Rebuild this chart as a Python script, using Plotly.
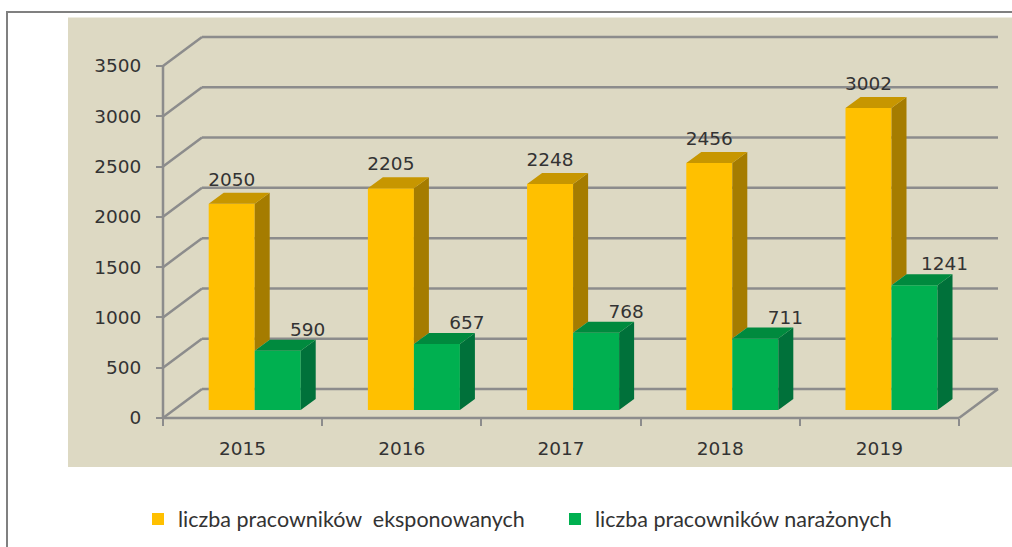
import plotly.graph_objects as go

years = ["2015", "2016", "2017", "2018", "2019"]
exposed = [2050, 2205, 2248, 2456, 3002]
endangered = [590, 657, 768, 711, 1241]
y_ticks = [0, 500, 1000, 1500, 2000, 2500, 3000, 3500]
name_exposed = "liczba pracowników\u00a0 eksponowanych"
name_endangered = "liczba pracowników narażonych"

W, H = 1012, 547
X0, UNIT = 163.0, 159.2          # pixel of category edge 0, pixels per category
Y0, KPX = 418.0, 3500 / 352.0    # pixel of value 0, value units per pixel
xr = [-X0 / UNIT, (W - X0) / UNIT]
yr = [-(H - Y0) * KPX, Y0 * KPX]

WALL_DX, WALL_DY = 39 / UNIT, 29 * KPX     # depth of the chart box
BAR_DX, BAR_DY = 15 / UNIT, 11 * KPX       # depth of a bar
BASE = 8 * KPX                             # bars stand inside the floor
OFF = 0.287
BW = 0.289

GRID = "#8C8C8C"
TXT = "#333333"
FONT = "DejaVu Sans"
TICK_SIZE = 18.5
n = len(years)
idx = list(range(n))


def prism(values, left, occlude=None):
    sx, sy, tx, ty = [], [], [], []
    for i, v in enumerate(values):
        a = i + left
        b = a + BW
        top = BASE + v
        low = BASE + (occlude[i] if occlude else 0)
        sx += [b, b + BAR_DX, b + BAR_DX, b, b, None]
        sy += [top, top + BAR_DY, low + BAR_DY, low, top, None]
        tx += [a, b, b + BAR_DX, a + BAR_DX, a, None]
        ty += [top, top, top + BAR_DY, top + BAR_DY, top, None]
    return sx, sy, tx, ty


def face(x, y, color):
    return go.Scatter(x=x, y=y, mode="lines", fill="toself", fillcolor=color,
                      line=dict(width=0), showlegend=False, hoverinfo="skip")


fig = go.Figure()
fig.add_trace(go.Bar(x=idx, y=exposed, base=BASE, width=BW, offset=OFF, marker_color="#FFC000",
                     marker_line_width=0, name=name_exposed))
fig.add_trace(go.Bar(x=idx, y=endangered, base=BASE, width=BW, offset=OFF + BW, marker_color="#00B050",
                     marker_line_width=0, name=name_endangered))

sx, sy, tx, ty = prism(exposed, OFF, occlude=endangered)
fig.add_trace(face(sx, sy, "#A57C00"))
fig.add_trace(face(tx, ty, "#C79600"))
sx, sy, tx, ty = prism(endangered, OFF + BW)
fig.add_trace(face(sx, sy, "#00713A"))
fig.add_trace(face(tx, ty, "#008A3E"))

fig.add_trace(go.Scatter(
    x=[i + OFF + BW / 2 for i in idx], y=[BASE + v + 22.5 * KPX for v in exposed],
    text=[str(v) for v in exposed], mode="text", textposition="middle center",
    textfont=dict(family=FONT, size=TICK_SIZE, color=TXT), showlegend=False, hoverinfo="skip"))
fig.add_trace(go.Scatter(
    x=[i + OFF + BW * 1.5 + 30 / UNIT for i in idx], y=[BASE + v + 19.5 * KPX for v in endangered],
    text=[str(v) for v in endangered], mode="text", textposition="middle center",
    textfont=dict(family=FONT, size=TICK_SIZE, color=TXT), showlegend=False, hoverinfo="skip"))

shapes = [
    dict(type="rect", xref="paper", yref="paper", x0=68 / W, x1=1, y0=1 - 467 / H, y1=1 - 17.5 / H,
         fillcolor="#DDD9C3", line_width=0, layer="below"),
    dict(type="line", xref="paper", yref="paper", x0=7 / W, x1=7 / W, y0=0, y1=1 - 12 / H,
         line=dict(color="#808080", width=2), layer="below"),
    dict(type="line", xref="paper", yref="paper", x0=6 / W, x1=1, y0=1 - 12 / H, y1=1 - 12 / H,
         line=dict(color="#808080", width=2), layer="below"),
]


def seg(x0, y0, x1, y1):
    return dict(type="line", xref="x", yref="y", x0=x0, y0=y0, x1=x1, y1=y1,
                line=dict(color=GRID, width=2.5), layer="below")


for v in y_ticks:
    shapes.append(seg(0, v, WALL_DX, v + WALL_DY))
    shapes.append(seg(WALL_DX, v + WALL_DY, n + WALL_DX, v + WALL_DY))
shapes.append(seg(n, 0, n + WALL_DX, WALL_DY))
shapes.append(seg(0, 0, 0, y_ticks[-1]))
shapes.append(seg(0, 0, n, 0))

fig.update_layout(
    width=W, height=H, margin=dict(l=0, r=0, t=0, b=0), autosize=False,
    paper_bgcolor="white", plot_bgcolor="rgba(0,0,0,0)", barmode="overlay", shapes=shapes,
    xaxis=dict(range=xr, domain=[0, 1], anchor="free", position=1 - Y0 / H, showgrid=False, zeroline=False,
               showline=False, tickmode="array", tickvals=[i + 0.5 for i in idx], ticktext=years,
               ticks="", ticklabelstandoff=17, tickfont=dict(family=FONT, size=TICK_SIZE, color=TXT),
               minor=dict(tickmode="array", tickvals=list(range(n + 1)), ticks="outside", ticklen=7,
                          tickwidth=2, tickcolor=GRID, showgrid=False)),
    yaxis=dict(range=yr, domain=[0, 1], anchor="free", position=X0 / W, showgrid=False, zeroline=False,
               showline=False, tickmode="array", tickvals=y_ticks, ticks="outside", ticklen=7,
               tickwidth=2, tickcolor=GRID, ticklabelstandoff=11,
               tickfont=dict(family=FONT, size=TICK_SIZE, color=TXT)),
    legend=dict(orientation="h", x=138 / W, xanchor="left", y=1 - 519 / H, yanchor="middle",
                font=dict(family="Lato", size=21.5, color=TXT), bgcolor="rgba(0,0,0,0)",
                traceorder="normal", itemwidth=30, entrywidth=372, entrywidthmode="pixels"),
)
fig.write_html("out.html", config=dict(displayModeBar=False),
               post_script="document.body.style.margin='0';")
